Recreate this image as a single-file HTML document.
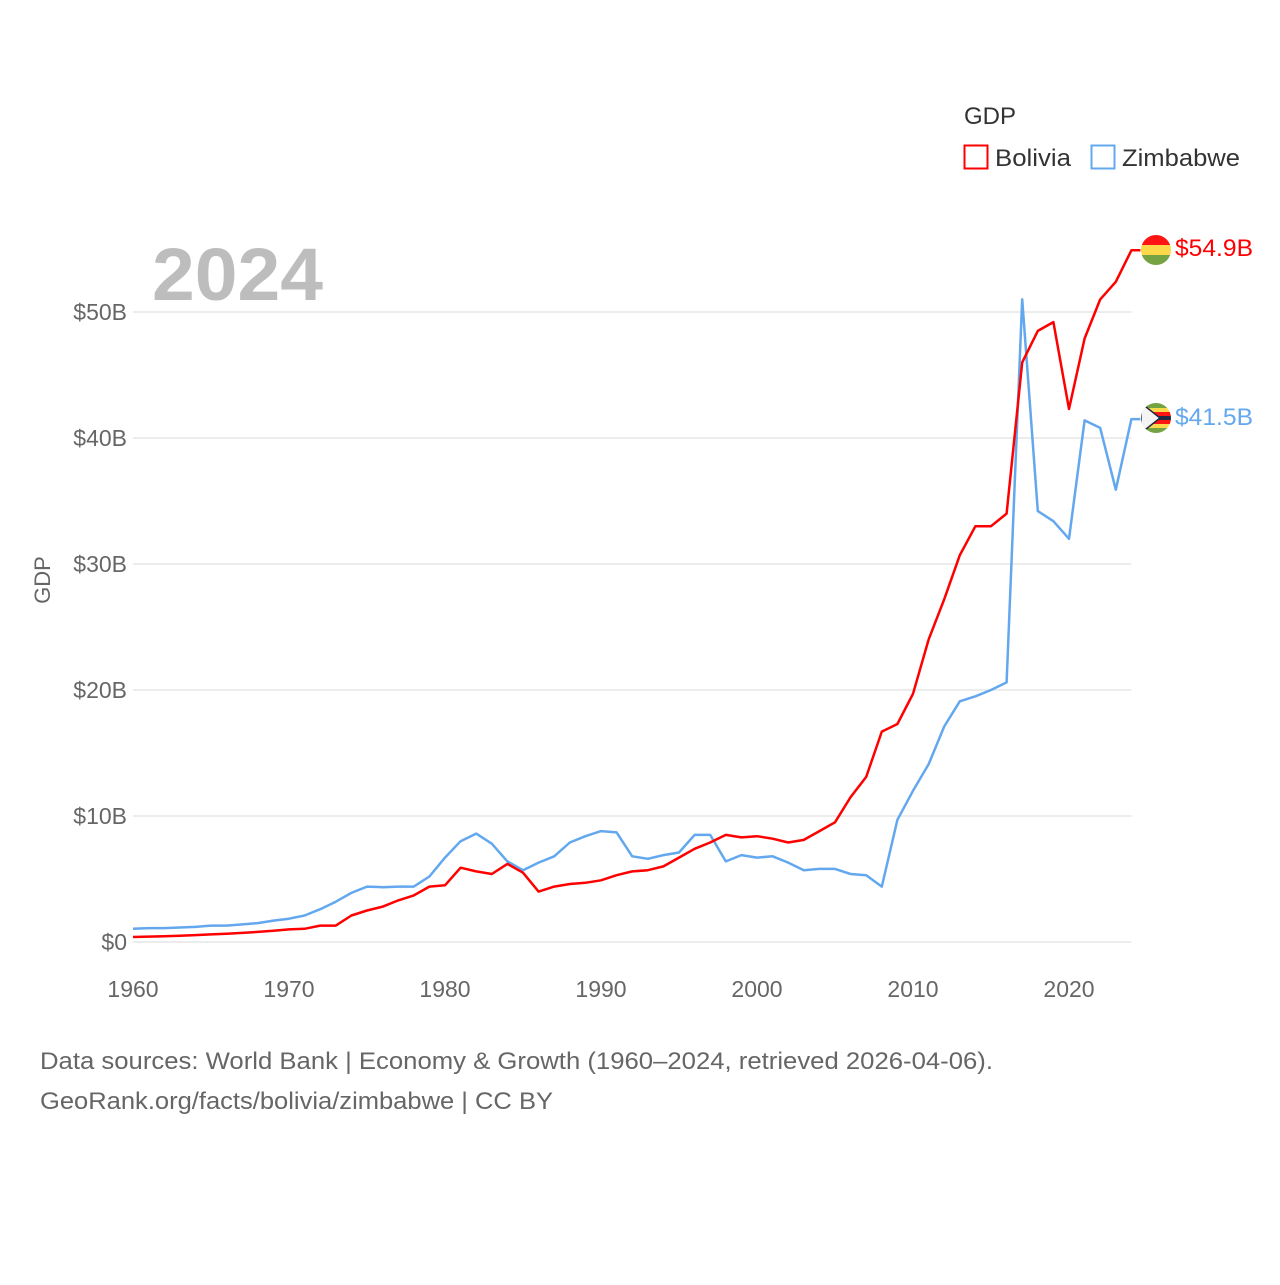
<!DOCTYPE html>
<html><head><meta charset="utf-8"><style>
html,body{margin:0;padding:0;background:#fff;}
body{width:1280px;height:1280px;position:relative;overflow:hidden;font-family:"Liberation Sans",sans-serif;}
svg text{font-family:"Liberation Sans",sans-serif;}
</style></head><body>
<svg id="chart" width="1280" height="1280" xmlns="http://www.w3.org/2000/svg">
<g id="grid"></g>
<g id="yticks"></g>
<g id="xticks"></g>
<text x="152" y="300" font-size="74" font-weight="bold" fill="#bdbdbd" textLength="171" lengthAdjust="spacingAndGlyphs">2024</text>
<text transform="translate(50,580) rotate(-90)" text-anchor="middle" font-size="22" fill="#666">GDP</text>
<g id="series"></g>
<g>
<text x="964" y="124" font-size="24" fill="#333">GDP</text>
<g>
<rect x="964.5" y="145.5" width="23" height="23" fill="none" stroke="#ff0000" stroke-width="2"/>
<text x="995" y="166" font-size="24" fill="#333" textLength="76" lengthAdjust="spacingAndGlyphs">Bolivia</text></g>
<g>
<rect x="1091.5" y="145.5" width="23" height="23" fill="none" stroke="#63a8ef" stroke-width="2"/>
<text x="1122" y="166" font-size="24" fill="#333" textLength="118" lengthAdjust="spacingAndGlyphs">Zimbabwe</text></g>
</g>
<defs>
<clipPath id="c1"><circle cx="1156" cy="250" r="15"/></clipPath>
<clipPath id="c2"><circle cx="1156" cy="418" r="15"/></clipPath>
</defs>
<g clip-path="url(#c1)">
<rect x="1141" y="235" width="30" height="10" fill="#ff1414"/>
<rect x="1141" y="245" width="30" height="10" fill="#fcd94a"/>
<rect x="1141" y="255" width="30" height="10" fill="#75a343"/>
</g>
<g clip-path="url(#c2)">
<rect x="1141" y="403" width="30" height="5" fill="#75a343"/>
<rect x="1141" y="408" width="30" height="4" fill="#fcd94a"/>
<rect x="1141" y="412" width="30" height="4" fill="#ff1414"/>
<rect x="1141" y="416" width="30" height="4" fill="#1e2a44"/>
<rect x="1141" y="420" width="30" height="4" fill="#ff1414"/>
<rect x="1141" y="424" width="30" height="4" fill="#fcd94a"/>
<rect x="1141" y="428" width="30" height="5" fill="#75a343"/>
<polygon points="1141,403 1160,418 1141,433" fill="#f4f4f4" stroke="#1e2a44" stroke-width="1.5"/>
</g>
<text x="1175" y="256" font-size="24" fill="#ff0000" textLength="78" lengthAdjust="spacingAndGlyphs">$54.9B</text>
<text x="1175" y="425" font-size="24" fill="#63a8ef" textLength="78" lengthAdjust="spacingAndGlyphs">$41.5B</text>
<text x="40" y="1069" font-size="24" fill="#666" textLength="953" lengthAdjust="spacingAndGlyphs">Data sources: World Bank | Economy &amp; Growth (1960–2024, retrieved 2026-04-06).</text>
<text x="40" y="1109" font-size="24" fill="#666" textLength="513" lengthAdjust="spacingAndGlyphs">GeoRank.org/facts/bolivia/zimbabwe | CC BY</text>
</svg>
<script>
const years = [];
for (let y = 1960; y <= 2024; y++) years.push(y);
const bolivia = [0.4,0.43,0.46,0.5,0.55,0.6,0.66,0.72,0.8,0.9,1.0,1.05,1.3,1.3,2.1,2.5,2.8,3.3,3.7,4.4,4.5,5.9,5.6,5.4,6.2,5.5,4.0,4.4,4.6,4.7,4.9,5.3,5.6,5.7,6.0,6.7,7.4,7.9,8.5,8.3,8.4,8.2,7.9,8.1,8.8,9.5,11.5,13.1,16.7,17.3,19.7,24.0,27.2,30.7,33.0,33.0,34.0,46.0,48.5,49.2,42.3,47.9,51.0,52.4,54.9];
const zimbabwe = [1.05,1.1,1.1,1.15,1.2,1.3,1.3,1.4,1.5,1.7,1.85,2.1,2.6,3.2,3.9,4.4,4.35,4.4,4.4,5.2,6.7,8.0,8.6,7.8,6.4,5.7,6.3,6.8,7.9,8.4,8.8,8.7,6.8,6.6,6.9,7.1,8.5,8.5,6.4,6.9,6.7,6.8,6.3,5.7,5.8,5.8,5.4,5.3,4.4,9.7,12.0,14.1,17.1,19.1,19.5,20.0,20.6,51.0,34.2,33.4,32.0,41.4,40.8,35.9,41.5];
const yTicks = [0,10,20,30,40,50];
const yTickLabels = ["$0","$10B","$20B","$30B","$40B","$50B"];
const xTicks = [1960,1970,1980,1990,2000,2010,2020];

const NS = "http://www.w3.org/2000/svg";
const X0 = 133, X1 = 1131.4, Y0 = 942, Y50 = 312;
const xs = y => X0 + (y - 1960) * (X1 - X0) / 64;
const ys = v => Y0 - v * (Y0 - Y50) / 50;
function mk(tag, attrs, parent) {
  const e = document.createElementNS(NS, tag);
  for (const k in attrs) e.setAttribute(k, attrs[k]);
  parent.appendChild(e); return e;
}
const grid = document.getElementById('grid');
const yg = document.getElementById('yticks');
const xg = document.getElementById('xticks');
yTicks.forEach((t, i) => {
  const l = mk('line', {x1: X0, x2: X1, y1: ys(t), y2: ys(t), stroke: '#e6e6e6', 'stroke-width': 1.5}, grid);
  
  
  const tx = mk('text', {x: 127, y: ys(t) + 8, 'text-anchor': 'end', 'font-size': 23, fill: '#666'}, yg);
  tx.textContent = yTickLabels[i];
  
  
});
xTicks.forEach(t => {
  const tx = mk('text', {x: xs(t), y: 997, 'text-anchor': 'middle', 'font-size': 23, fill: '#666'}, xg);
  tx.textContent = t;
  
  
});
const sg = document.getElementById('series');
function line(vals, color, name) {
  let d = vals.map((v, i) => (i ? 'L' : 'M') + xs(years[i]).toFixed(1) + ',' + ys(v).toFixed(1)).join(' ');
  d += ' L' + (xs(years[years.length - 1]) + 9) + ',' + ys(vals[vals.length - 1]).toFixed(1);
  const p = mk('path', {d: d, fill: 'none', stroke: color, 'stroke-width': 2.5, 'stroke-linejoin': 'round'}, sg);
  
  
}
line(zimbabwe, '#63a8ef', 'zimbabwe-line');
line(bolivia, '#ff0000', 'bolivia-line');
</script>
</body></html>
